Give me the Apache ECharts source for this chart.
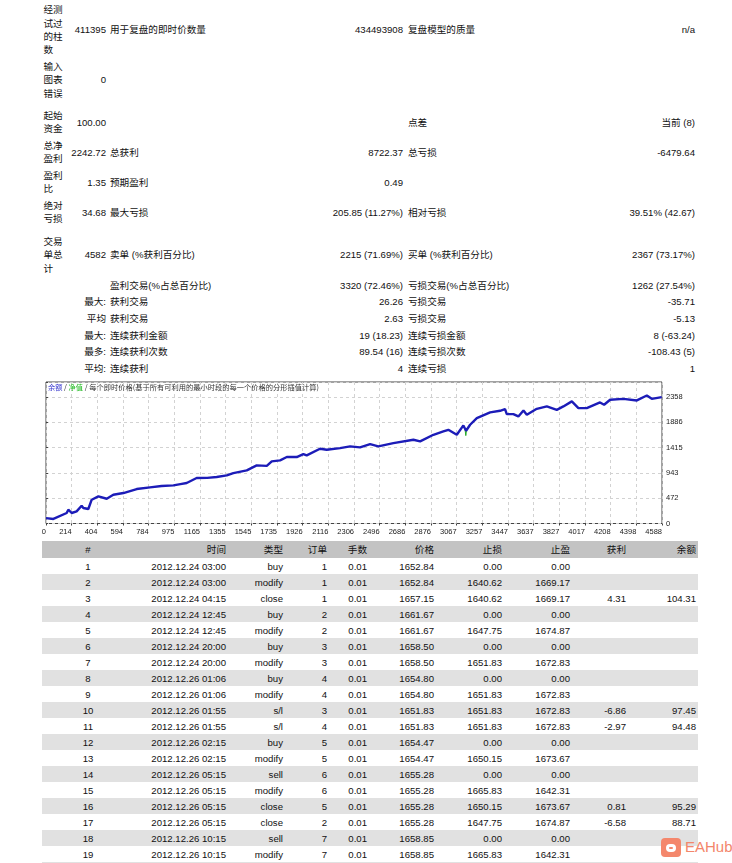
<!DOCTYPE html>
<html lang="zh">
<head>
<meta charset="UTF-8">
<title>策略测试报告</title>
<script src="https://cdn.jsdelivr.net/npm/echarts@6/dist/echarts.min.js"></script>
<style>
    body {
        margin: 0;
        width: 732px;
        height: 863px;
        overflow: hidden;
        position: relative;
        background: #fff;
        color: #111;
        font-family: "Liberation Sans", "Noto Sans CJK SC", sans-serif;
        font-size: 9.6px;
    }
    .c { position: absolute; line-height: 13.3px; white-space: nowrap; }
    .r { text-align: right; }
    .band { position: absolute; left: 42px; width: 656px; }
    #chart { position: absolute; left: 0; top: 376px; width: 732px; height: 164px; }
    #logo { position: absolute; left: 661px; top: 838px; width: 20px; height: 19px; border-radius: 4px; background: #f4876c; }
    #logo i { position: absolute; left: 5px; top: 6px; width: 10px; height: 8px; border-radius: 5px; background: #fff; }
    #logo b { position: absolute; left: 8px; top: 9px; width: 4px; height: 2px; background: #f4876c; border-radius: 1px; }
    #logoText { position: absolute; left: 685px; top: 837px; font-size: 15px; line-height: 19px; color: #f3866b; font-family: "Liberation Sans Narrow", "Liberation Sans", sans-serif; }
</style>
</head>
<body>
<div id="stats"></div>
<div id="chart"></div>
<div id="trades"></div>
<div id="logo"><i></i><b></b></div>
<div id="logoText">EAHub</div>
<script>
    // 统计表 (每行: 左标签, 数值, 标签, 数值, 标签, 数值)
    const statA = ['经测|试过|的柱|数', '输入|图表|错误', '起始|资金', '总净|盈利', '盈利|比', '绝对|亏损', '交易|单总|计', '', '', '', '', '', '']
    const statB = ['411395', '0', '100.00', '2242.72', '1.35', '34.68', '4582', '', '最大:', '平均', '最大:', '最多:', '平均:']
    const statC = ['用于复盘的即时价数量', '', '', '总获利', '预期盈利', '最大亏损', '卖单 (%获利百分比)', '盈利交易(%占总百分比)', '获利交易', '获利交易', '连续获利金额', '连续获利次数', '连续获利']
    const statD = ['434493908', '', '', '8722.37', '0.49', '205.85 (11.27%)', '2215 (71.69%)', '3320 (72.46%)', '26.26', '2.63', '19 (18.23)', '89.54 (16)', '4']
    const statE = ['复盘模型的质量', '', '点差', '总亏损', '', '相对亏损', '买单 (%获利百分比)', '亏损交易(%占总百分比)', '亏损交易', '亏损交易', '连续亏损金额', '连续亏损次数', '连续亏损']
    const statF = ['n/a', '', '当前 (8)', '-6479.64', '', '39.51% (42.67)', '2367 (73.17%)', '1262 (27.54%)', '-35.71', '-5.13', '8 (-63.24)', '-108.43 (5)', '1']
    const statRowY = [30, 80, 122.5, 152.5, 182.5, 212.5, 255, 285.5, 302, 318.5, 335.5, 352, 369]

    // 图表数据: 交易序号 / 余额
    const balanceTrades = [0, 55, 154, 166, 191, 228, 265, 278, 315, 340, 390, 452, 501, 576, 675, 774, 860, 948, 1000, 1047, 1121,
        1200, 1270, 1345, 1394, 1494, 1568, 1643, 1680, 1742, 1792, 1866, 1915, 1940, 2039, 2089, 2188, 2263, 2337, 2412, 2473,
        2585, 2734, 2784, 2883, 2957, 2994, 3057, 3106, 3126, 3156, 3206, 3305, 3379, 3416, 3429, 3478, 3515, 3553, 3578, 3652,
        3727, 3801, 3850, 3913, 3962, 4024, 4123, 4153, 4198, 4297, 4397, 4471, 4508, 4582]
    const balanceValues = [100, 85, 196, 257, 196, 227, 332, 289, 270, 444, 507, 462, 537, 568, 643, 675, 700, 712, 735, 755, 848,
        852, 867, 898, 941, 992, 1085, 1075, 1159, 1178, 1240, 1240, 1295, 1270, 1394, 1376, 1407, 1439, 1420, 1482, 1439,
        1500, 1562, 1532, 1655, 1718, 1748, 1655, 1830, 1730, 1842, 1967, 2073, 2103, 2134, 2041, 2041, 1998, 2110, 2028, 2140,
        2184, 2121, 2184, 2278, 2153, 2153, 2259, 2215, 2308, 2326, 2296, 2389, 2326, 2358]
    const equityTrades = [3118, 3124, 3130]
    const equityValues = [1770, 1640, 1760]
    const xTickLabels = ['0', '214', '404', '594', '784', '975', '1165', '1355', '1545', '1735', '1926', '2116', '2306',
        '2496', '2686', '2876', '3067', '3257', '3447', '3637', '3827', '4017', '4208', '4398', '4588']
    const yTickLabels = ['0', '472', '943', '1415', '1886', '2358']

    // 交易明细
    const tradeHeaders = ['#', '时间', '类型', '订单', '手数', '价格', '止损', '止盈', '获利', '余额']
    const tradeTimes = ['2012.12.24 03:00', '2012.12.24 03:00', '2012.12.24 04:15', '2012.12.24 12:45', '2012.12.24 12:45',
        '2012.12.24 20:00', '2012.12.24 20:00', '2012.12.26 01:06', '2012.12.26 01:06', '2012.12.26 01:55', '2012.12.26 01:55',
        '2012.12.26 02:15', '2012.12.26 02:15', '2012.12.26 05:15', '2012.12.26 05:15', '2012.12.26 05:15', '2012.12.26 05:15',
        '2012.12.26 10:15', '2012.12.26 10:15']
    const tradeTypes = ['buy', 'modify', 'close', 'buy', 'modify', 'buy', 'modify', 'buy', 'modify', 's/l', 's/l', 'buy',
        'modify', 'sell', 'modify', 'close', 'close', 'sell', 'modify']
    const tradeOrders = ['1', '1', '1', '2', '2', '3', '3', '4', '4', '3', '4', '5', '5', '6', '6', '5', '2', '7', '7']
    const tradePrices = ['1652.84', '1652.84', '1657.15', '1661.67', '1661.67', '1658.50', '1658.50', '1654.80', '1654.80',
        '1651.83', '1651.83', '1654.47', '1654.47', '1655.28', '1655.28', '1655.28', '1655.28', '1658.85', '1658.85']
    const tradeSL = ['0.00', '1640.62', '1640.62', '0.00', '1647.75', '0.00', '1651.83', '0.00', '1651.83', '1651.83',
        '1651.83', '0.00', '1650.15', '0.00', '1665.83', '1650.15', '1647.75', '0.00', '1665.83']
    const tradeTP = ['0.00', '1669.17', '1669.17', '0.00', '1674.87', '0.00', '1672.83', '0.00', '1672.83', '1672.83',
        '1672.83', '0.00', '1673.67', '0.00', '1642.31', '1673.67', '1674.87', '0.00', '1642.31']
    const tradeProfit = ['', '', '4.31', '', '', '', '', '', '', '-6.86', '-2.97', '', '', '', '', '0.81', '-6.58', '', '']
    const tradeBalance = ['', '', '104.31', '', '', '', '', '', '', '97.45', '94.48', '', '', '', '', '95.29', '88.71', '', '']

    function cell(parent, text, x, top, right, extra) {
        const d = document.createElement('div')
        d.className = 'c' + (right ? ' r' : '')
        d.innerHTML = text
        d.style.top = top + 'px'
        if (right) d.style.right = (732 - x) + 'px'
        else d.style.left = x + 'px'
        if (extra) Object.assign(d.style, extra)
        parent.appendChild(d)
        return d
    }

    // 统计表
    const stats = document.getElementById('stats')
    statRowY.forEach((y, i) => {
        const lines = statA[i] ? statA[i].split('|') : []
        if (lines.length) cell(stats, lines.join('<br>'), 43.5, y - lines.length * 13.3 / 2, false)
        const t = y - 6.65
        if (statB[i]) cell(stats, statB[i], 106, t, true)
        if (statC[i]) cell(stats, statC[i], 110, t, false)
        if (statD[i]) cell(stats, statD[i], 403, t, true)
        if (statE[i]) cell(stats, statE[i], 408, t, false)
        if (statF[i]) cell(stats, statF[i], 695, t, true)
    })

    // 交易表
    const trades = document.getElementById('trades')
    const colRight = [0, 226, 283, 327, 367, 434, 502, 570, 626, 696]
    function band(top, h, color) {
        const b = document.createElement('div')
        b.className = 'band'
        b.style.top = top + 'px'
        b.style.height = h + 'px'
        b.style.background = color
        trades.appendChild(b)
    }
    band(541, 17, '#c3c3c3')
    for (let i = 0; i < 20; i++) {
        if (i % 2 === 1) band(558 + i * 16, 16, '#e1e1e1')
    }
    function tradeRow(vals, top) {
        vals.forEach((v, j) => {
            if (v === '') return
            if (j === 0) cell(trades, v, 73, top, false, {width: '30px', textAlign: 'center'})
            else cell(trades, v, colRight[j], top, true)
        })
    }
    tradeRow(tradeHeaders, 543)
    tradeTimes.forEach((t, i) => {
        tradeRow([String(i + 1), t, tradeTypes[i], tradeOrders[i], '0.01', tradePrices[i], tradeSL[i], tradeTP[i],
            tradeProfit[i], tradeBalance[i]], 559.5 + i * 16)
    })

    // 余额曲线
    const xStep = 191
    const yStep = 471.6
    const myChart = echarts.init(document.getElementById('chart'))
    myChart.setOption({
        animation: false,
        title: {
            text: '{b|余额} / {g|净值} / 每个即时价格(基于所有可利用的最小时段的每一个价格的分形插值计算)',
            left: 48,
            top: 8,
            padding: 0,
            textStyle: {
                fontSize: 7.25,
                fontWeight: 'normal',
                color: '#333',
                fontFamily: 'Noto Sans CJK SC',
                rich: {
                    b: {color: '#3333cc', fontSize: 7.25, fontFamily: 'Noto Sans CJK SC'},
                    g: {color: '#22bb22', fontSize: 7.25, fontFamily: 'Noto Sans CJK SC'}
                }
            }
        },
        grid: {
            left: 46, right: 70, top: 6, bottom: 16.5,
            show: true, borderColor: '#444', borderWidth: 1, backgroundColor: '#fff'
        },
        xAxis: {
            type: 'value',
            min: 0,
            max: 24 * xStep,
            interval: xStep,
            axisLine: {show: false},
            axisTick: {show: true, length: 2, lineStyle: {color: '#444'}},
            splitLine: {show: true, lineStyle: {type: [3, 3], color: '#d2d2d2'}},
            axisLabel: {
                fontSize: 7.5, color: '#222', align: 'right', margin: 4,
                fontFamily: 'Liberation Sans',
                formatter: v => xTickLabels[Math.round(v / xStep)] || ''
            }
        },
        yAxis: {
            type: 'value',
            position: 'right',
            min: 0,
            max: 2640,
            interval: yStep,
            axisLine: {show: false},
            axisTick: {show: true, length: 2, lineStyle: {color: '#444'}},
            splitLine: {show: true, lineStyle: {type: [3, 3], color: '#d2d2d2'}},
            axisLabel: {
                fontSize: 7.5, color: '#222', margin: 4,
                fontFamily: 'Liberation Sans',
                formatter: v => yTickLabels[Math.round(v / yStep)] || ''
            }
        },
        series: [
            {
                name: '净值',
                type: 'line',
                data: equityTrades.map((t, i) => [t, equityValues[i]]),
                showSymbol: false,
                lineStyle: {color: '#22aa22', width: 1},
                z: 2
            },
            {
                name: '余额',
                type: 'line',
                data: balanceTrades.map((t, i) => [t, balanceValues[i]]),
                showSymbol: false,
                lineStyle: {color: '#1c1cb8', width: 2.4},
                z: 3
            }
        ]
    })
</script>
</body>
</html>
